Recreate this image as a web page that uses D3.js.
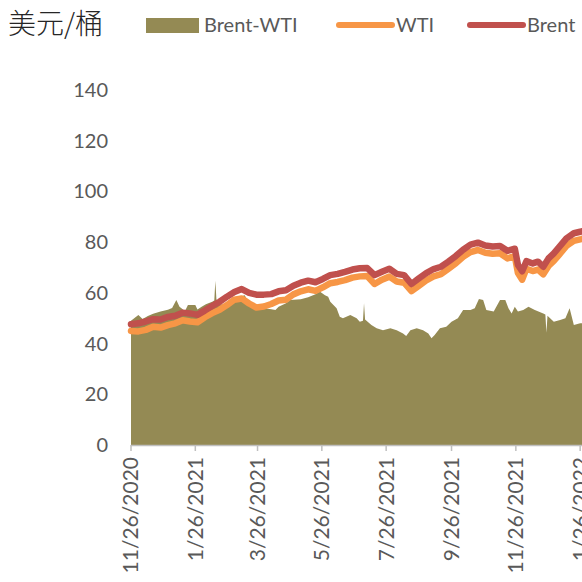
<!DOCTYPE html>
<html>
<head>
<meta charset="utf-8">
<style>
  body { margin: 0; background: #fff; }
  svg { display: block; font-family: Lato, "Noto Sans", sans-serif; }
</style>
<script src="https://cdn.jsdelivr.net/npm/d3@7"></script>
</head>
<body>
<script>
// Brent / WTI price lines (USD per barrel), roughly weekly
var lineDates = [
  "2020-11-26","2020-12-03","2020-12-10","2020-12-17","2020-12-24","2020-12-31",
  "2021-01-07","2021-01-14","2021-01-21","2021-01-28","2021-02-04","2021-02-11",
  "2021-02-18","2021-02-25","2021-03-04","2021-03-11","2021-03-18","2021-03-25",
  "2021-04-01","2021-04-08","2021-04-15","2021-04-22","2021-04-29","2021-05-06",
  "2021-05-13","2021-05-20","2021-05-27","2021-06-03","2021-06-10","2021-06-17",
  "2021-06-24","2021-07-01","2021-07-08","2021-07-15","2021-07-22","2021-07-29",
  "2021-08-05","2021-08-12","2021-08-19","2021-08-26","2021-09-02","2021-09-09",
  "2021-09-16","2021-09-23","2021-09-30","2021-10-07","2021-10-14","2021-10-21",
  "2021-10-28","2021-11-04","2021-11-11","2021-11-18","2021-11-25","2021-11-28",
  "2021-12-02","2021-12-06","2021-12-12","2021-12-17","2021-12-22","2021-12-27",
  "2022-01-01","2022-01-06","2022-01-13","2022-01-20","2022-01-27","2022-02-03"
]
var brent = [
  47.6,48.0,48.7,49.6,49.5,50.5,
  51.0,52.2,51.9,51.3,53.0,54.8,
  56.5,58.5,60.3,61.5,60.0,59.3,
  59.3,59.5,60.6,61.0,62.8,64.0,
  64.8,64.2,65.5,67.0,67.5,68.3,
  69.2,69.7,69.8,67.0,68.3,69.5,
  67.5,67.0,63.5,65.7,67.8,69.4,
  70.3,72.3,74.5,77.0,79.0,79.8,
  78.7,78.3,78.5,76.6,77.4,71.0,
  68.5,72.5,71.6,72.3,70.3,73.6,
  75.6,78.0,81.5,83.5,84.2,85.0
]
var wti = [
  45.0,44.8,45.4,46.6,46.3,47.3,
  48.0,49.2,48.7,48.4,50.4,52.0,
  53.3,55.2,57.3,57.8,55.8,54.2,
  54.6,55.6,57.0,57.3,59.4,60.6,
  61.4,60.8,62.2,63.8,64.3,65.0,
  66.0,66.5,66.6,63.5,65.2,66.4,
  64.5,64.0,60.7,62.8,64.9,66.5,
  67.4,69.5,71.6,74.2,76.1,76.9,
  75.8,75.4,75.6,73.6,74.5,67.8,
  65.2,69.5,68.6,69.2,67.3,70.6,
  72.6,75.0,78.5,80.5,81.2,82.0
]

// Brent-WTI area, as drawn against the left axis
var spreadDates = [
  "2020-11-26","2020-12-03","2020-12-07","2020-12-12","2020-12-17","2020-12-24",
  "2020-12-31","2021-01-04","2021-01-08","2021-01-11","2021-01-14","2021-01-16",
  "2021-01-19","2021-01-26","2021-01-28","2021-02-01","2021-02-05","2021-02-11",
  "2021-02-13","2021-02-14","2021-02-15","2021-02-18","2021-02-25","2021-03-04",
  "2021-03-09","2021-03-14","2021-03-18","2021-03-25","2021-04-01","2021-04-08",
  "2021-04-12","2021-04-15","2021-04-22","2021-04-26","2021-05-06","2021-05-13",
  "2021-05-20","2021-05-24","2021-05-29","2021-06-01","2021-06-03","2021-06-09",
  "2021-06-12","2021-06-15","2021-06-22","2021-06-28","2021-07-01","2021-07-04",
  "2021-07-05","2021-07-06","2021-07-12","2021-07-17","2021-07-23","2021-07-30",
  "2021-08-05","2021-08-11","2021-08-14","2021-08-18","2021-08-24","2021-08-30",
  "2021-09-04","2021-09-07","2021-09-10","2021-09-15","2021-09-21","2021-09-26",
  "2021-10-02","2021-10-07","2021-10-14","2021-10-18","2021-10-22","2021-10-26",
  "2021-10-29","2021-11-05","2021-11-11","2021-11-16","2021-11-19","2021-11-22",
  "2021-11-25","2021-11-28","2021-12-03","2021-12-08","2021-12-14","2021-12-22",
  "2021-12-24","2021-12-25","2021-12-26","2022-01-01","2022-01-07","2022-01-12",
  "2022-01-16","2022-01-20","2022-01-26","2022-02-03"
]
var spread = [
  49.0,51.3,49.7,50.9,51.8,52.6,
  53.3,54.0,57.2,54.5,53.5,52.6,
  55.2,55.2,53.4,54.5,55.5,56.5,
  57.0,64.8,57.5,55.5,55.2,57.5,
  58.5,59.1,55.0,54.0,53.9,53.5,
  53.2,54.5,55.9,57.2,57.5,58.3,
  59.5,60.5,59.1,58.5,56.5,53.9,
  50.6,50.0,51.3,50.0,48.6,49.0,
  55.9,49.5,47.3,46.0,45.3,46.0,
  45.3,44.0,43.0,45.3,46.0,45.3,
  44.0,42.1,43.4,46.0,46.6,48.6,
  50.0,53.2,53.2,53.9,57.6,57.2,
  53.2,52.6,57.2,57.2,53.9,51.9,
  54.5,52.6,53.2,54.5,53.2,51.9,
  51.5,44.3,51.0,48.6,49.3,50.0,
  53.9,47.3,48.0,48.0
]

var yTicks = [0, 20, 40, 60, 80, 100, 120, 140]
var xTickLabels = ["11/26/2020","1/26/2021","3/26/2021","5/26/2021",
                   "7/26/2021","9/26/2021","11/26/2021","1/26/2022"]

var width = 582, height = 582
var parse = d3.timeParse("%Y-%m-%d")
var parseTick = d3.timeParse("%m/%d/%Y")

var svg = d3.select("body").append("svg")
    .attr("width", width)
    .attr("height", height)

var x = d3.scaleTime()
    .domain([parse("2020-11-26"), parse("2022-02-03")])
    .range([131, 588.6])

var y = d3.scaleLinear()
    .domain([0, 140])
    .range([445, 90])

var lineData = lineDates.map((d, i) => ({date: parse(d), brent: brent[i], wti: wti[i]}))
var spreadData = spreadDates.map((d, i) => ({date: parse(d), v: spread[i]}))

// area
svg.append("path")
    .datum(spreadData)
    .attr("fill", "#948A54")
    .attr("d", d3.area().x(d => x(d.date)).y0(y(0)).y1(d => y(d.v)))

// lines
var lineW = d3.line().x(d => x(d.date)).y(d => y(d.wti))
var lineB = d3.line().x(d => x(d.date)).y(d => y(d.brent))

svg.append("path")
    .datum(lineData)
    .attr("fill", "none")
    .attr("stroke", "#F79646")
    .attr("stroke-width", 6.5)
    .attr("stroke-linejoin", "round")
    .attr("stroke-linecap", "round")
    .attr("d", lineW)

svg.append("path")
    .datum(lineData)
    .attr("fill", "none")
    .attr("stroke", "#C0504D")
    .attr("stroke-width", 6.5)
    .attr("stroke-linejoin", "round")
    .attr("stroke-linecap", "round")
    .attr("d", lineB)

// x axis line and ticks
svg.append("line")
    .attr("x1", x.range()[0]).attr("x2", width + 10)
    .attr("y1", y(0) + 0.5).attr("y2", y(0) + 0.5)
    .attr("stroke", "#BFBFBF")
    .attr("stroke-width", 1.5)

var tickDates = xTickLabels.map(parseTick)
svg.selectAll(".xtick")
    .data(tickDates)
    .enter().append("line")
    .attr("class", "xtick")
    .attr("x1", d => x(d)).attr("x2", d => x(d))
    .attr("y1", y(0)).attr("y2", y(0) + 6)
    .attr("stroke", "#BFBFBF")
    .attr("stroke-width", 1.5)

svg.selectAll(".xlabel")
    .data(tickDates)
    .enter().append("text")
    .attr("class", "xlabel")
    .attr("transform", d => `translate(${x(d)},${y(0) + 12}) rotate(-90)`)
    .attr("text-anchor", "end")
    .attr("dy", "0.35em")
    .attr("fill", "#595959")
    .style("font-size", "21px")
    .text((d, i) => xTickLabels[i])

// y labels
svg.selectAll(".ylabel")
    .data(yTicks)
    .enter().append("text")
    .attr("class", "ylabel")
    .attr("x", 108)
    .attr("y", d => y(d))
    .attr("dy", "0.35em")
    .attr("text-anchor", "end")
    .attr("fill", "#595959")
    .style("font-size", "20px")
    .text(d => d)

// unit
svg.append("text")
    .attr("x", 8)
    .attr("y", 34)
    .attr("fill", "#262626")
    .style("font-family", "'Noto Sans CJK SC', sans-serif")
    .style("font-weight", 300)
    .style("font-size", "28px")
    .text("美元/桶")

// legend
var legend = svg.append("g").attr("fill", "#595959").style("font-size", "20px")
legend.append("rect")
    .attr("x", 146).attr("y", 18).attr("width", 53).attr("height", 15)
    .attr("fill", "#948A54")
legend.append("text").attr("x", 204).attr("y", 32).text("Brent-WTI")

legend.append("line")
    .attr("x1", 339).attr("x2", 392).attr("y1", 25).attr("y2", 25)
    .attr("stroke", "#F79646").attr("stroke-width", 6).attr("stroke-linecap", "round")
legend.append("text").attr("x", 396).attr("y", 32).text("WTI")

legend.append("line")
    .attr("x1", 470).attr("x2", 523).attr("y1", 25).attr("y2", 25)
    .attr("stroke", "#C0504D").attr("stroke-width", 6).attr("stroke-linecap", "round")
legend.append("text").attr("x", 527).attr("y", 32).text("Brent")
</script>
</body>
</html>
